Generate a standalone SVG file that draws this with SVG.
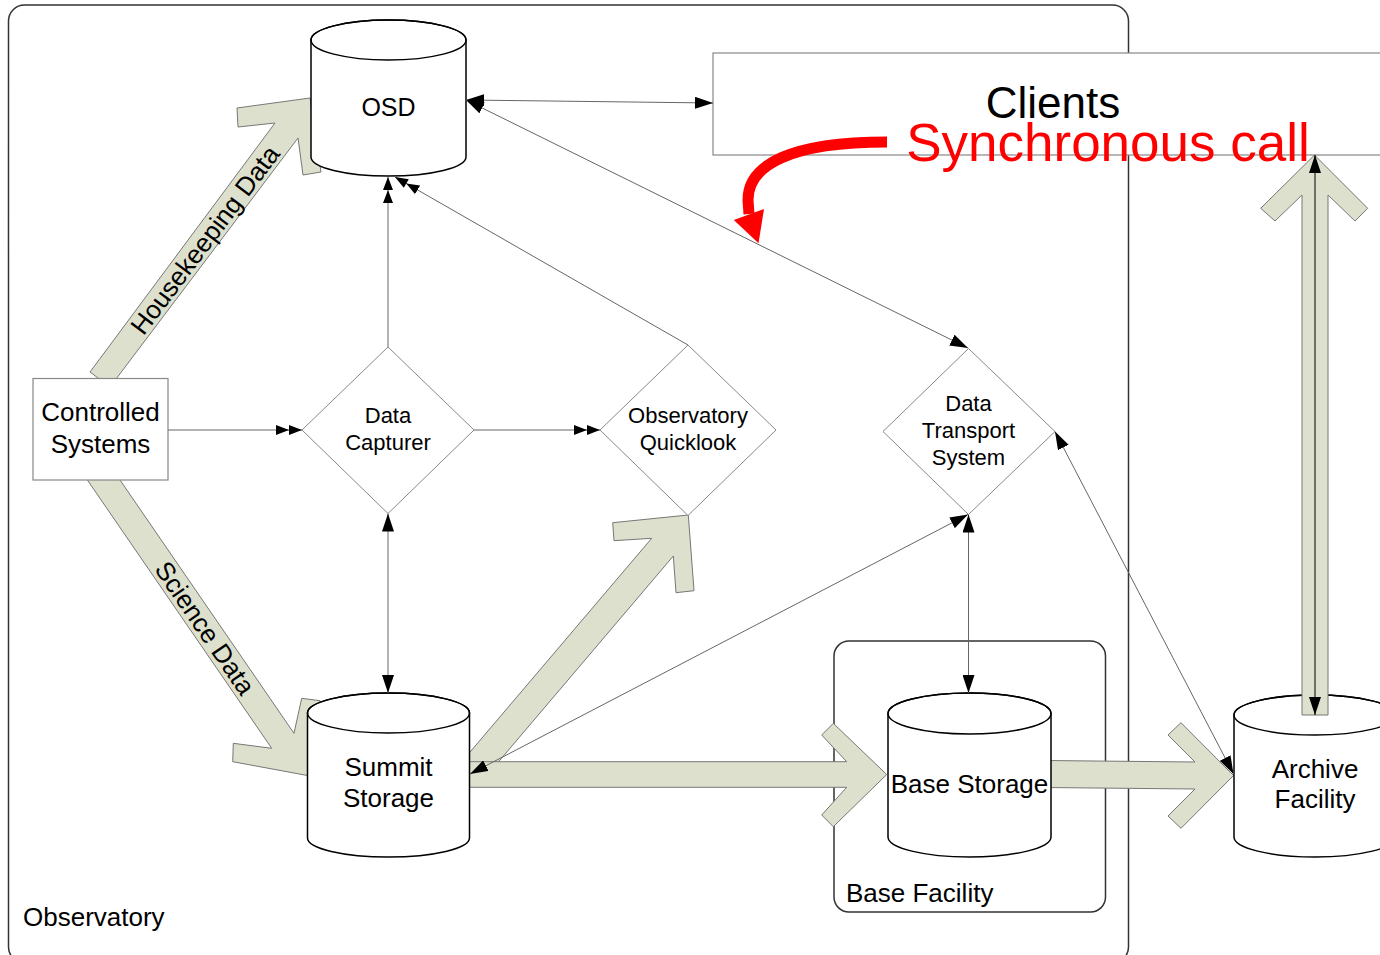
<svg xmlns="http://www.w3.org/2000/svg" width="1380" height="955" viewBox="0 0 1380 955">
  <defs>
    <style>
      text { font-family: "Liberation Sans", Arial, sans-serif; fill: #000; }
      .frame { fill: none; stroke: #333; stroke-width: 1.5; }
      .cyl { fill: #fff; stroke: #000; stroke-width: 1.5; }
      .dia { fill: #fff; stroke: #888; stroke-width: 1; }
      .box { fill: #fff; stroke: #888; stroke-width: 1.2; }
      .blk { fill: #dde0cc; stroke: #777; stroke-width: 1; }
      .ln { fill: none; stroke: #666; stroke-width: 1; }
      .lbl { font-size: 26px; text-anchor: middle; }
      .dlbl { font-size: 22px; text-anchor: middle; }
    </style>
    <marker id="ah" markerUnits="userSpaceOnUse" markerWidth="18" markerHeight="12" refX="18" refY="6" orient="auto-start-reverse">
      <path d="M0,0 L18,6 L0,12 Z" fill="#000"/>
    </marker>
    <marker id="ah2" markerUnits="userSpaceOnUse" markerWidth="26" markerHeight="10" refX="26" refY="5" orient="auto-start-reverse">
      <path d="M0,0 L13,5 L0,10 Z M13,0 L26,5 L13,10 Z" fill="#000"/>
    </marker>
  </defs>

  <!-- containers -->
  <g id="observatory">
    <rect class="frame" x="8.5" y="5" width="1120" height="958" rx="16"/>
    <text x="23" y="926" style="font-size:26px">Observatory</text>
  </g>
  <g id="base-facility">
    <rect class="frame" x="834" y="641" width="271.5" height="271" rx="15"/>
    <text x="846" y="902" style="font-size:26px">Base Facility</text>
  </g>
  <g id="clients">
    <rect class="box" x="713" y="53" width="700" height="102"/>
    <text x="1053" y="118" style="font-size:44px;text-anchor:middle">Clients</text>
  </g>

  <!-- data flows drawn as block arrows -->
  <g id="flows">
    <polygon class="blk" points="90,372 275,123 238,127 237,108 310,98 321,172 303,175 298,138 110,387"/>
    <polygon class="blk" points="80.5,470 271.7,748.3 233.3,743.3 232.7,761.7 307.5,775.5 320,700.7 301.7,698.3 294,733.3 102.7,454.8"/>
    <polygon class="blk" points="462,761.5 651.7,538.3 614,540.7 612.7,522.7 688.3,515 694,590.7 676,592.7 673.3,556 483.4,779.6"/>
    <polygon class="blk" points="465,761.7 846.7,761.7 821.7,735 833.3,723.3 886.7,774.5 833.3,826.7 821.7,815 846.7,787.3 465,787.3"/>
    <polygon class="blk" points="1045,760.5 1195,762 1168,735 1181,722.7 1233.5,775.5 1181,828.3 1168,816 1195,789 1045,787.5"/>
    <text class="lbl" transform="translate(205,240) rotate(-53)" x="0" y="9">Housekeeping Data</text>
    <text class="lbl" transform="translate(205,628) rotate(55.5)" x="0" y="9">Science Data</text>
  </g>

  <!-- nodes -->
  <g id="osd">
    <path class="cyl" d="M311,40 V157 A77.5,19 0 0 0 466,157 V40 A77.5,20 0 0 0 311,40 Z"/>
    <ellipse cx="388.5" cy="40" rx="77.5" ry="20" fill="none" stroke="#000" stroke-width="1.5"/>
    <text x="388.5" y="116" style="font-size:25px;text-anchor:middle">OSD</text>
  </g>
  <g id="summit-storage">
    <path class="cyl" d="M307.5,713 V838 A81,19 0 0 0 469.5,838 V713 A81,20 0 0 0 307.5,713 Z"/>
    <ellipse cx="388.5" cy="713" rx="81" ry="20" fill="none" stroke="#000" stroke-width="1.5"/>
    <text class="lbl" x="388.5" y="776">Summit</text>
    <text class="lbl" x="388.5" y="807">Storage</text>
  </g>
  <g id="base-storage">
    <path class="cyl" d="M888,713.5 V837 A81.5,20 0 0 0 1051,837 V713.5 A81.5,20.5 0 0 0 888,713.5 Z"/>
    <ellipse cx="969.5" cy="713.5" rx="81.5" ry="20.5" fill="none" stroke="#000" stroke-width="1.5"/>
    <text class="lbl" x="969.5" y="793">Base Storage</text>
  </g>
  <g id="archive-facility">
    <path class="cyl" d="M1234,715 V837 A81,20 0 0 0 1396,837 V715 A81,20 0 0 0 1234,715 Z"/>
    <ellipse cx="1315" cy="715" rx="81" ry="20" fill="none" stroke="#000" stroke-width="1.5"/>
    <text class="lbl" x="1315" y="778">Archive</text>
    <text class="lbl" x="1315" y="808">Facility</text>
  </g>
  <g id="controlled-systems">
    <rect class="box" x="33" y="378.5" width="135" height="101.5"/>
    <text class="lbl" x="100.5" y="421">Controlled</text>
    <text class="lbl" x="100.5" y="453">Systems</text>
  </g>
  <g id="data-capturer">
    <polygon class="dia" points="388,347 474,430 388,513.5 302,430"/>
    <text class="dlbl" x="388" y="423">Data</text>
    <text class="dlbl" x="388" y="450">Capturer</text>
  </g>
  <g id="observatory-quicklook">
    <polygon class="dia" points="688,345 776,430 688,515.5 600,430"/>
    <text class="dlbl" x="688" y="423">Observatory</text>
    <text class="dlbl" x="688" y="450">Quicklook</text>
  </g>
  <g id="data-transport-system">
    <polygon class="dia" points="968.5,348.5 1055,431.5 968.5,514.5 883,431.5"/>
    <text class="dlbl" x="968.5" y="411">Data</text>
    <text class="dlbl" x="968.5" y="438">Transport</text>
    <text class="dlbl" x="968.5" y="465">System</text>
  </g>

  <!-- archive to clients transfer, drawn over the archive top -->
  <g id="archive-flow">
    <polygon class="blk" points="1302,715 1302,195 1275,221 1260.7,208.3 1314.5,155 1367.7,208.3 1355,221 1328,195 1328,715"/>
  </g>

  <!-- control and data connectors -->
  <g id="connectors">
    <path class="ln" d="M168,430 H302" marker-end="url(#ah2)"/>
    <path class="ln" d="M474,430 H600" marker-end="url(#ah2)"/>
    <path class="ln" d="M388,347 V177" marker-end="url(#ah2)"/>
    <path class="ln" d="M688,345 L395,177" marker-end="url(#ah2)"/>
    <path class="ln" d="M466,100 L968,348" marker-start="url(#ah)" marker-end="url(#ah)"/>
    <path class="ln" d="M466,100 L713,103" marker-start="url(#ah)" marker-end="url(#ah)"/>
    <path class="ln" d="M388,513.5 V693" marker-start="url(#ah)" marker-end="url(#ah)"/>
    <path class="ln" d="M470,774 L968,514.5" marker-start="url(#ah)" marker-end="url(#ah)"/>
    <path class="ln" d="M968.5,514.5 V693" marker-start="url(#ah)" marker-end="url(#ah)"/>
    <path class="ln" d="M1055,431.5 L1233.5,774" marker-start="url(#ah)" marker-end="url(#ah)"/>
    <path d="M1315,715 V155" fill="none" stroke="#000" stroke-width="1" marker-start="url(#ah)" marker-end="url(#ah)"/>
  </g>

  <!-- annotation -->
  <g id="sync-note">
    <text x="1108" y="161" style="font-size:53px;text-anchor:middle;fill:#ff0000">Synchronous call</text>
    <path d="M887,142 C790,142 748,165 748,200 L749,214" fill="none" stroke="#ff0000" stroke-width="11"/>
    <polygon points="733.8,220 764,209 758.5,243.3" fill="#ff0000"/>
  </g>
</svg>
